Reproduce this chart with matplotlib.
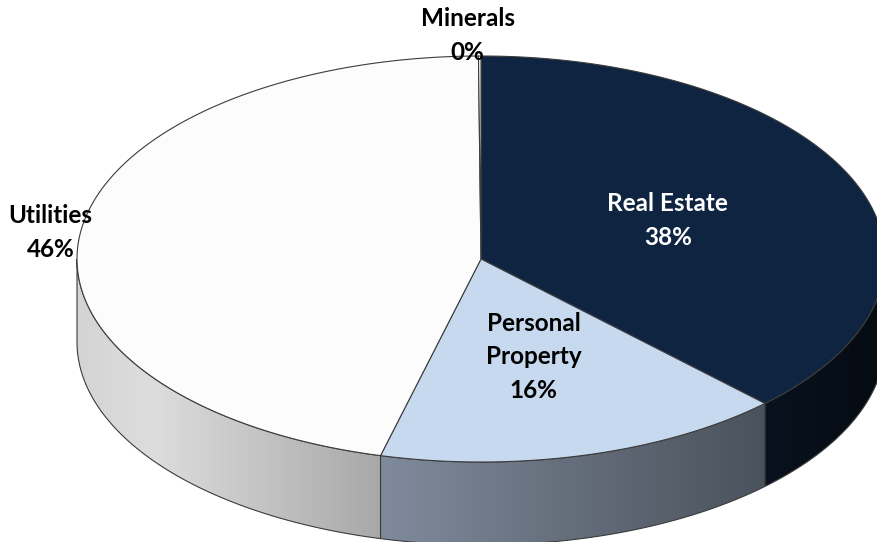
import numpy as np
import matplotlib.pyplot as plt
from matplotlib.patches import Polygon
from matplotlib.colors import to_rgb

plt.rcParams['font.family'] = ['Lato', 'DejaVu Sans']

# slices, clockwise from 12 o'clock
names = ["Real Estate", "Personal\nProperty", "Utilities", "Minerals"]
shares = [37.6, 16.4, 45.9, 0.1]
top_colors = ["#0f2440", "#c6d9ef", "#fcfcfc", "#fcfcfc"]
side_stops = [
    [(0.0, "#09121e"), (1.0, "#050b12")],
    [(0.0, "#7f8b9d"), (0.5, "#646d7a"), (1.0, "#4a525c")],
    [(0.0, "#d4d4d4"), (0.25, "#dddddd"), (1.0, "#a8a8a8")],
    [(0.0, "#d4d4d4"), (1.0, "#d4d4d4")],
]
label_colors = ["white", "black", "black", "black"]
label_r = [0.5, 0.5, 1.074, 1.10]
label_dx = [0, 0, 0, -12]

# geometry in pixels
cx, cy = 481, 259
rx, ry = 404, 203
depth = 83
edge = "#3c3c3c"


def pt(a, r=1.0):
    return cx + rx * r * np.sin(a), cy - ry * r * np.cos(a)


fig = plt.figure(figsize=(8.78, 5.42), dpi=100)
ax = fig.add_axes([0, 0, 1, 1])
ax.set_xlim(0, 878)
ax.set_ylim(542, 0)
ax.axis("off")

bounds = np.concatenate([[0], np.cumsum(shares)]) / sum(shares) * 2 * np.pi

# side walls (front half only), gradient left -> right
for i in range(len(shares)):
    a0 = max(bounds[i], np.pi / 2)
    a1 = min(bounds[i + 1], 3 * np.pi / 2)
    if a1 <= a0:
        continue
    aa = np.linspace(a0, a1, 200)
    xs, ys = pt(aa)
    verts = np.concatenate([np.c_[xs, ys], np.c_[xs[::-1], ys[::-1] + depth]])
    clip = Polygon(verts, closed=True, transform=ax.transData)
    grid = np.linspace(0, 1, 300)
    fr = [s[0] for s in side_stops[i]]
    cols = np.array([to_rgb(s[1]) for s in side_stops[i]])
    img = np.stack([np.interp(grid, fr, cols[:, k]) for k in range(3)], axis=-1)[None]
    im = ax.imshow(img, extent=[xs.min(), xs.max(), ys.max() + depth, ys.min()],
                   aspect="auto", zorder=1, interpolation="bilinear")
    im.set_clip_path(clip)
    ax.add_patch(Polygon(verts, closed=True, facecolor="none",
                         edgecolor=edge, lw=0.8, zorder=1.5))

# top faces
for i in range(len(shares)):
    aa = np.linspace(bounds[i], bounds[i + 1], 200)
    xs, ys = pt(aa)
    verts = np.concatenate([[[cx, cy]], np.c_[xs, ys]])
    ax.add_patch(Polygon(verts, closed=True, facecolor=top_colors[i],
                         edgecolor=edge, lw=0.8, zorder=2))

ax.set_xlim(0, 878)
ax.set_ylim(542, 0)

# labels
for i in range(len(shares)):
    mid = (bounds[i] + bounds[i + 1]) / 2
    x, y = pt(mid, label_r[i])
    ax.text(x + label_dx[i], y, f"{names[i]}\n{round(shares[i])}%",
            ha="center", va="center", multialignment="center",
            fontsize=17.5, fontweight="bold", color=label_colors[i],
            linespacing=1.55, zorder=5)

fig.savefig("out.png", dpi=100)
